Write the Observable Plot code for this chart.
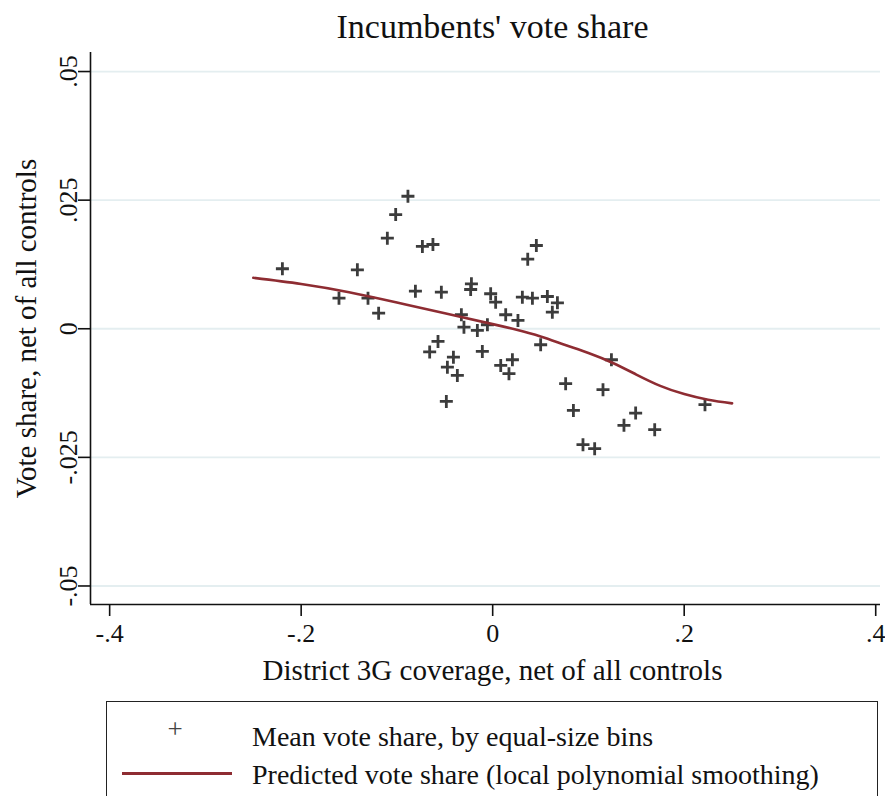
<!DOCTYPE html>
<html>
<head>
<meta charset="utf-8">
<script src="https://cdn.jsdelivr.net/npm/d3@7"></script>
<script src="https://cdn.jsdelivr.net/npm/@observablehq/plot@0.6"></script>
<style>
  body { margin: 0; background: #fff; font-family: "Liberation Serif", serif; }
  #wrap { position: relative; width: 885px; height: 796px; overflow: hidden; background: #fff; }
  #chart svg { display: block; }
  #legend { position: absolute; left: 106px; top: 701px; width: 772px; height: 130px;
            border: 1.5px solid #222; box-sizing: border-box; background: #fff; }
  #legend .t { position: absolute; left: 145px; font-size: 28px; line-height: 32px; color: #111; white-space: nowrap; }
  #legend .sym { position: absolute; left: 58px; top: 12px; font-size: 27px; line-height: 30px; color: #444; width: 20px; text-align: center; }
  #legend .ln { position: absolute; left: 15px; top: 70px; width: 110px; height: 2.6px; background: #8e2c32; }
</style>
</head>
<body>
<div id="wrap">
  <div id="chart"></div>
  <div id="legend">
    <span class="sym">+</span>
    <span class="t" style="top:19px">Mean vote share, by equal-size bins</span>
    <span class="ln"></span>
    <span class="t" style="top:57px">Predicted vote share (local polynomial smoothing)</span>
  </div>
</div>
<script>
// ---- data ----
const binX = [-0.2196,-0.1605,-0.1413,-0.1302,-0.1191,-0.1100,-0.1013,-0.0885,-0.0807,-0.0734,
  -0.0624,-0.0658,-0.0571,-0.0536,-0.0484,-0.0473,-0.0410,-0.0369,-0.0327,-0.0300,
  -0.0230,-0.0222,-0.0160,-0.0108,-0.0055,-0.0021,0.0031,0.0084,0.0136,0.0170,
  0.0206,0.0264,0.0310,0.0366,0.0415,0.0456,0.0501,0.0571,0.0623,0.0676,
  0.0762,0.0843,0.0943,0.1065,0.1152,0.1240,0.1371,0.1493,0.1692,0.2217];
const binY = [0.01166,0.00594,0.01146,0.00594,0.00303,0.0176,0.0222,0.02576,0.0073,0.0160,
  0.01638,-0.00451,-0.00247,0.00711,-0.01412,-0.00746,-0.00552,-0.00907,0.00272,0.00031,
  0.00763,0.00874,-0.00033,-0.00441,0.00078,0.0068,0.00517,-0.00713,0.00272,-0.00874,
  -0.00602,0.00161,0.00614,0.01352,0.00594,0.01618,-0.00311,0.00627,0.00322,0.00505,
  -0.01068,-0.01587,-0.02253,-0.02331,-0.01185,-0.00602,-0.01878,-0.01639,-0.01962,-0.01476];
const fitX = [-0.25,-0.2,-0.15,-0.1,-0.05,0,0.025,0.05,0.075,0.1,0.125,0.15,0.175,0.2,0.225,0.25];
const fitY = [0.0099,0.0087,0.0071,0.0051,0.0030,0.0009,-0.0002,-0.0015,-0.0031,-0.0047,-0.0066,-0.0089,-0.0111,-0.0127,-0.0138,-0.0145];
const xTicks = [-0.4,-0.2,0,0.2,0.4];
const xTickLabels = ["-.4","-.2","0",".2",".4"];
const yTicks = [-0.05,-0.025,0,0.025,0.05];
const yTickLabels = ["-.05","-.025","0",".025",".05"];
const titleText = "Incumbents' vote share";
const xLabel = "District 3G coverage, net of all controls";
const yLabel = "Vote share, net of all controls";

const bins = binX.map((x, i) => ({x, y: binY[i]}));
const fit = fitX.map((x, i) => ({x, y: fitY[i]}));
const xDom = [-0.42, 0.405];
const yDom = [-0.0536, 0.0537];

const plusSymbol = {
  draw(ctx, size) {
    const r = Math.sqrt(size / Math.PI);
    ctx.moveTo(-r, 0); ctx.lineTo(r, 0);
    ctx.moveTo(0, -r); ctx.lineTo(0, r);
  }
};

const ink = "#111";
const chart = Plot.plot({
  width: 885,
  height: 700,
  marginLeft: 90,
  marginRight: 5,
  marginTop: 52,
  marginBottom: 96,
  style: { fontFamily: "Liberation Serif, serif", background: "white", color: ink, overflow: "visible" },
  x: { domain: xDom },
  y: { domain: yDom },
  marks: [
    Plot.gridY(yTicks, { stroke: "#e4eef0", strokeOpacity: 1, strokeWidth: 1.8 }),
    Plot.ruleX([xDom[0]], { stroke: ink, strokeWidth: 1.6 }),
    Plot.ruleY([yDom[0]], { stroke: ink, strokeWidth: 1.6 }),
    Plot.axisX(xTicks, { tickSize: 12, tickPadding: 7, fontSize: 26, strokeWidth: 1.6,
      tickFormat: d => xTickLabels[xTicks.indexOf(d)], label: null }),
    Plot.axisY(yTicks, { tickSize: 12, strokeWidth: 1.6, tickFormat: () => "", label: null }),
    Plot.text(yTicks, { y: d => d, text: d => yTickLabels[yTicks.indexOf(d)], frameAnchor: "left",
      rotate: -90, textAnchor: "middle", lineAnchor: "bottom", dx: -14, fontSize: 26, fill: ink }),
    Plot.text([titleText], { frameAnchor: "top", dx: 7, dy: -25, lineAnchor: "middle", fontSize: 34, fill: ink }),
    Plot.text([xLabel], { frameAnchor: "bottom", dx: 7, dy: 66, lineAnchor: "middle", fontSize: 29, fill: ink }),
    Plot.text([yLabel], { frameAnchor: "left", rotate: -90, dx: -64, textAnchor: "middle", lineAnchor: "middle", fontSize: 29, fill: ink }),
    Plot.dot(bins, { x: "x", y: "y", symbol: plusSymbol, r: 6.5, stroke: "#3c3c3c", strokeWidth: 2.8, fill: "none" }),
    Plot.line(fit, { x: "x", y: "y", stroke: "#8e2c32", strokeWidth: 2.6, curve: "natural" })
  ]
});
document.getElementById("chart").appendChild(chart);
</script>
</body>
</html>
